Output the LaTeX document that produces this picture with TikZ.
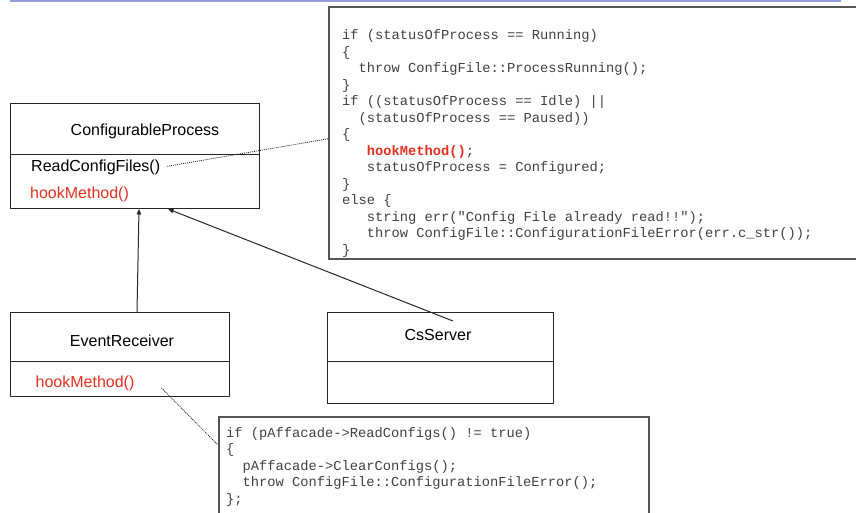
\documentclass[tikz,border=0pt]{standalone}
\usepackage{fontspec}
\setmainfont{Liberation Sans}
\setmonofont{Liberation Mono}
\usetikzlibrary{arrows.meta}

\definecolor{hookred}{RGB}{226,48,32}
\definecolor{slideblue}{RGB}{150,158,218}
\definecolor{codegray}{RGB}{85,85,85}

\begin{document}
\begin{tikzpicture}[x=1pt,y=-1pt]
  \useasboundingbox (0,0) rectangle (856,512);
  \clip (0,0) rectangle (856,512);

  \draw[slideblue,line width=1.6pt] (10,1.2) -- (841,1.2);

  % class boxes
  \begin{scope}[every node/.style={draw=black!85,line width=1pt,rectangle,inner sep=0pt}]
    \node[minimum width=249pt,minimum height=105pt] (cp) at (134.5,155.5) {};
    \node[minimum width=219pt,minimum height=84pt]  (er) at (119.5,354) {};
    \node[minimum width=226pt,minimum height=91pt]  (cs) at (440,357.5) {};
  \end{scope}
  \draw[black!85,line width=1pt] (cp.west |- 0,154) -- (cp.east |- 0,154);
  \draw[black!85,line width=1pt] (er.west |- 0,361) -- (er.east |- 0,361);
  \draw[black!85,line width=1pt] (cs.west |- 0,361) -- (cs.east |- 0,361);

  \begin{scope}[every node/.style={font=\fontsize{16}{19}\selectfont,inner sep=0pt}]
    \node (cpName) at (145,131) {ConfigurableProcess};
    \node[anchor=west] (cpRead) at (31,167.5) {ReadConfigFiles()};
    \node[anchor=west,text=hookred] (cpHook) at (30,194) {hookMethod()};
    \node (erName) at (122,340.5) {EventReceiver};
    \node[anchor=west,text=hookred] (erHook) at (35.5,383.5) {hookMethod()};
    \node (csName) at (438,335) {CsServer};
  \end{scope}

  % code boxes
  \begin{scope}[every node/.style={draw=codegray,line width=1.6pt,rectangle,anchor=north west,inner sep=0pt}]
    \node[minimum width=640pt,minimum height=252pt] (codeA) at (328,6) {};
    \node[minimum width=430pt,minimum height=150pt] (codeB) at (218,416) {};
  \end{scope}

  \begin{scope}[every node/.style={anchor=north west,align=left,inner sep=0pt,text=black!75,
      font=\fontsize{13.75}{16.5}\selectfont\ttfamily}]
    \node (codeAText) at (342,29.5) {if (statusOfProcess == Running)\\
      \{\\
      \phantom{xx}throw ConfigFile::ProcessRunning();\\
      \}\\
      if ((statusOfProcess == Idle) ||\\
      \phantom{xx}(statusOfProcess == Paused))\\
      \{\\
      \phantom{xxx}\textbf{\textcolor{hookred}{hookMethod()}};\\
      \phantom{xxx}statusOfProcess = Configured;\\
      \}\\
      else \{\\
      \phantom{xxx}string err("Config File already read!!");\\
      \phantom{xxx}throw ConfigFile::ConfigurationFileError(err.c\_str());\\
      \}};
    \node (codeBText) at (226,427) {if (pAffacade->ReadConfigs() != true)\\
      \{\\
      \phantom{xx}pAffacade->ClearConfigs();\\
      \phantom{xx}throw ConfigFile::ConfigurationFileError();\\
      \};};
  \end{scope}

  \coordinate (erTop)      at (137,312);
  \coordinate (cpFoot1)    at (139,209);
  \coordinate (csTail)     at (453,321);
  \coordinate (cpFoot2)    at (168,209);
  \coordinate (erHookTail) at (161.5,388);

  \begin{scope}[every edge/.style={draw,black!85,line width=1pt,-{Triangle[length=5.5pt,width=4.5pt]}}]
    \path (erTop)  edge (cpFoot1);
    \path (csTail) edge (cpFoot2);
  \end{scope}

  \begin{scope}[every edge/.style={draw,black!85,line width=0.8pt,dash pattern=on 1pt off 1pt}]
    \path (cpRead.east) edge[shorten <=7pt] ([yshift=-6pt]codeA.west);
    \path (erHookTail)  edge ([yshift=-29pt]codeB.north west);
  \end{scope}

\end{tikzpicture}
\end{document}
